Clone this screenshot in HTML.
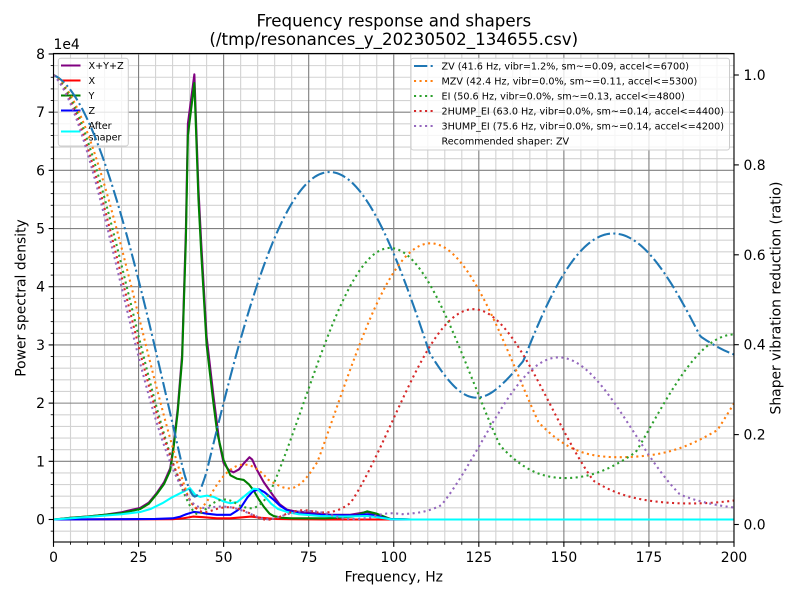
<!DOCTYPE html>
<html><head><meta charset="utf-8"><style>
html,body{margin:0;padding:0;background:#fff;}
svg{display:block;font-family:"DejaVu Sans","Liberation Sans",sans-serif;}
</style></head><body>
<svg id="s" width="800" height="600" viewBox="0 0 800 600" xmlns="http://www.w3.org/2000/svg">
<rect width="800" height="600" fill="#fff"/>
<defs><clipPath id="cp"><rect x="53.5" y="53.5" width="680.5" height="488.5"/></clipPath></defs>
<g id="grid" clip-path="url(#cp)"></g>
<g id="psd" clip-path="url(#cp)" fill="none" stroke-width="2.08" stroke-linejoin="round"></g>
<g id="leg1">
<rect x="58.3" y="58.3" width="70" height="87.7" rx="2.5" fill="#fff" fill-opacity="0.8" stroke="#cccccc" stroke-width="1"/>
<line x1="61" y1="65.5" x2="80.5" y2="65.5" stroke="purple" stroke-width="2.08"/>
<line x1="61" y1="80.5" x2="80.5" y2="80.5" stroke="red" stroke-width="2.08"/>
<line x1="61" y1="95.5" x2="80.5" y2="95.5" stroke="green" stroke-width="2.08"/>
<line x1="61" y1="110.5" x2="80.5" y2="110.5" stroke="blue" stroke-width="2.08"/>
<line x1="61" y1="131.5" x2="80.5" y2="131.5" stroke="cyan" stroke-width="2.08"/>
<g font-size="9.64" fill="#000">
<text x="88.5" y="69">X+Y+Z</text>
<text x="88.5" y="84">X</text>
<text x="88.5" y="99">Y</text>
<text x="88.5" y="114">Z</text>
<text x="88.5" y="129.2">After</text>
<text x="88.5" y="140.4">shaper</text>
</g>
</g>
<g id="shp" clip-path="url(#cp)" fill="none" stroke-width="2.08" stroke-linecap="butt"></g>
<g id="axes" stroke="#000" stroke-width="1.11" fill="none"></g>
<g id="leg2">
<rect x="411" y="58.3" width="318.5" height="91.7" rx="2.5" fill="#fff" fill-opacity="0.8" stroke="#cccccc" stroke-width="1"/>
<line x1="414" y1="66" x2="433.3" y2="66" stroke="#1f77b4" stroke-width="2.08" stroke-dasharray="13.3 3.33 2.08 3.33"/>
<line x1="414" y1="81" x2="433.3" y2="81" stroke="#ff7f0e" stroke-width="2.08" stroke-dasharray="2.08 3.44"/>
<line x1="414" y1="96" x2="433.3" y2="96" stroke="#2ca02c" stroke-width="2.08" stroke-dasharray="2.08 3.44"/>
<line x1="414" y1="111" x2="433.3" y2="111" stroke="#d62728" stroke-width="2.08" stroke-dasharray="2.08 3.44"/>
<line x1="414" y1="126" x2="433.3" y2="126" stroke="#9467bd" stroke-width="2.08" stroke-dasharray="2.08 3.44"/>
<g font-size="9.64" fill="#000">
<text x="441.5" y="69.5">ZV (41.6 Hz, vibr=1.2%, sm~=0.09, accel&lt;=6700)</text>
<text x="441.5" y="84.5">MZV (42.4 Hz, vibr=0.0%, sm~=0.11, accel&lt;=5300)</text>
<text x="441.5" y="99.5">EI (50.6 Hz, vibr=0.0%, sm~=0.13, accel&lt;=4800)</text>
<text x="441.5" y="114.5">2HUMP_EI (63.0 Hz, vibr=0.0%, sm~=0.14, accel&lt;=4400)</text>
<text x="441.5" y="129.5">3HUMP_EI (75.6 Hz, vibr=0.0%, sm~=0.14, accel&lt;=4200)</text>
<text x="441.5" y="144.5">Recommended shaper: ZV</text>
</g>
</g>
<g font-size="13.9" fill="#000">
<g text-anchor="middle">
<text x="53.5" y="562">0</text>
<text x="138.6" y="562">25</text>
<text x="223.6" y="562">50</text>
<text x="308.7" y="562">75</text>
<text x="393.8" y="562">100</text>
<text x="478.8" y="562">125</text>
<text x="563.9" y="562">150</text>
<text x="648.9" y="562">175</text>
<text x="734" y="562">200</text>
</g>
<g text-anchor="end">
<text x="45" y="524.5">0</text>
<text x="45" y="466.3">1</text>
<text x="45" y="408.1">2</text>
<text x="45" y="349.9">3</text>
<text x="45" y="291.7">4</text>
<text x="45" y="233.6">5</text>
<text x="45" y="175.4">6</text>
<text x="45" y="117.2">7</text>
<text x="45" y="59">8</text>
</g>
<g text-anchor="start">
<text x="743.5" y="529.5">0.0</text>
<text x="743.5" y="439.6">0.2</text>
<text x="743.5" y="349.7">0.4</text>
<text x="743.5" y="259.8">0.6</text>
<text x="743.5" y="169.9">0.8</text>
<text x="743.5" y="80">1.0</text>
</g>
<text x="53.5" y="49">1e4</text>
<text x="393.8" y="581.5" text-anchor="middle">Frequency, Hz</text>
<text transform="translate(25.3,298) rotate(-90)" text-anchor="middle">Power spectral density</text>
<text transform="translate(780.3,298) rotate(-90)" text-anchor="middle">Shaper vibration reduction (ratio)</text>
</g>
<g font-size="16.67" fill="#000" text-anchor="middle">
<text x="393.8" y="26.7">Frequency response and shapers</text>
<text x="393.8" y="45">(/tmp/resonances_y_20230502_134655.csv)</text>
</g>
</svg>
<script>
(function(){
var NS="http://www.w3.org/2000/svg";
var X0=53.5,XS=3.4025,Y0=519.5,YS=58.19,R0=524.5,RS=449.5;
function px(f){return X0+XS*f;}
function pyL(v){return Y0-YS*v;}
function pyR(r){return R0-RS*r;}
function el(parent,tag,attrs){var e=document.createElementNS(NS,tag);for(var k in attrs)e.setAttribute(k,attrs[k]);parent.appendChild(e);return e;}
var g=document.getElementById("grid");
var f,v,i;
for(f=0;f<=200;f+=5){if(f%25!==0){el(g,"line",{x1:px(f),y1:53.5,x2:px(f),y2:542,stroke:"#d3d3d3","stroke-width":1.11});}}
for(i=-2;i<=40;i++){if(i%5!==0){v=i*0.2;el(g,"line",{x1:53.5,y1:pyL(v),x2:734,y2:pyL(v),stroke:"#d3d3d3","stroke-width":1.11});}}
for(f=0;f<=200;f+=25){el(g,"line",{x1:px(f),y1:53.5,x2:px(f),y2:542,stroke:"#808080","stroke-width":1.11});}
for(i=0;i<=8;i++){el(g,"line",{x1:53.5,y1:pyL(i),x2:734,y2:pyL(i),stroke:"#808080","stroke-width":1.11});}
function pathL(pts){var d="";for(var j=0;j<pts.length;j++){d+=(j?"L":"M")+px(pts[j][0]).toFixed(2)+" "+pyL(pts[j][1]).toFixed(2);}return d;}
var purple=[[0,0],[5,0.03],[10,0.05],[15,0.08],[20,0.125],[25.5,0.2],[28,0.29],[30.4,0.46],[32.5,0.64],[34.3,0.88],[35.3,1.28],[36.5,1.9],[37.3,2.47],[37.8,2.83],[38.9,4.95],[39.5,6.8],[41.4,7.65],[42.6,5.68],[43.4,4.77],[45,3.14],[47,2.13],[48.8,1.3],[50,0.97],[51.5,0.85],[52.9,0.81],[54.5,0.86],[56,0.97],[57.6,1.07],[58.4,1.03],[59.8,0.85],[61.8,0.64],[64.7,0.40],[66.5,0.26],[68.6,0.17],[71,0.14],[74.5,0.12],[81.4,0.08],[87,0.08],[92.2,0.13],[95,0.08],[99,0.01],[105,0],[200,0]];
var red=[[0,0],[35,0.005],[38,0.02],[41,0.05],[44,0.04],[48,0.02],[52,0.02],[56,0.04],[58,0.05],[61,0.03],[65,0.01],[70,0.005],[80,0],[200,0]];
var green=[[0,0],[2,0.01],[5,0.03],[10,0.05],[15,0.08],[20,0.11],[25.5,0.18],[28,0.27],[30.4,0.44],[32.5,0.61],[34.3,0.84],[35.3,1.24],[36.5,1.84],[37.3,2.4],[37.8,2.75],[38.9,4.8],[39.5,6.6],[41.4,7.5],[42.6,5.5],[43.4,4.6],[45,3.0],[47,2.0],[48.1,1.5],[50,1.02],[52,0.76],[54,0.70],[55.9,0.68],[57.5,0.6],[58.8,0.5],[60.3,0.35],[61.8,0.22],[63.5,0.1],[64.7,0.06],[67,0.03],[70,0.02],[80,0.02],[88,0.05],[92.2,0.14],[95,0.1],[99,0.01],[105,0],[200,0]];
var blue=[[0,0],[20,0.005],[30,0.01],[35,0.02],[37.3,0.05],[39,0.09],[41.2,0.13],[43,0.12],[45.1,0.1],[48,0.08],[52,0.08],[53.9,0.15],[55,0.2],[57,0.38],[58.5,0.48],[60.3,0.52],[62,0.47],[64.7,0.34],[66.5,0.24],[68.6,0.16],[71,0.12],[73.5,0.095],[80,0.075],[89,0.07],[92.2,0.09],[95,0.06],[99,0.005],[105,0],[200,0]];
var cyan=[[0,0],[5,0.02],[13.7,0.06],[20,0.09],[25.5,0.13],[28.5,0.18],[32,0.28],[34.8,0.38],[38.2,0.48],[40.1,0.54],[41.7,0.42],[43.1,0.39],[45.1,0.41],[47,0.39],[50,0.31],[52,0.28],[54,0.30],[56.5,0.42],[58.8,0.53],[60,0.52],[62,0.4],[64,0.27],[66,0.18],[68.6,0.13],[72,0.09],[78.4,0.06],[85,0.05],[92.2,0.06],[95,0.04],[99,0.005],[105,0],[200,0]];
var pg=document.getElementById("psd");
el(pg,"path",{d:pathL(purple),stroke:"purple"});
el(pg,"path",{d:pathL(red),stroke:"red"});
el(pg,"path",{d:pathL(green),stroke:"green"});
el(pg,"path",{d:pathL(blue),stroke:"blue"});
el(pg,"path",{d:pathL(cyan),stroke:"cyan"});
function zvS(f,dr){var df=Math.sqrt(1-dr*dr),K=Math.exp(-dr*Math.PI/df),td=1/(f*df);return [[1,K],[0,0.5*td]];}
function mzvS(f,dr){var df=Math.sqrt(1-dr*dr),K=Math.exp(-0.75*dr*Math.PI/df),td=1/(f*df);var a1=1-1/Math.SQRT2,a2=(Math.SQRT2-1)*K,a3=a1*K*K;return [[a1,a2,a3],[0,0.375*td,0.75*td]];}
function eiS(f,dr){var vt=1/20,df=Math.sqrt(1-dr*dr),td=1/(f*df);
var a1=0.24968+0.24961*vt+0.80008*dr+1.23328*vt*dr+0.495*dr*dr+3.00005*vt*dr*dr;
var a3=0.25149+0.21474*vt-0.83249*dr+1.41498*vt*dr+0.85181*dr*dr-4.90094*vt*dr*dr;
var a2=1-a1-a3;var t2=0.5;
return [[a1,a2,a3],[0,t2*td,td]];}
function h2S(f,dr){var vt=1/20,df=Math.sqrt(1-dr*dr),K=Math.exp(-dr*Math.PI/df),td=1/(f*df);var V2=vt*vt;var X=Math.pow(V2*(Math.sqrt(1-V2)+1),1/3);var a1=(3*X*X+2*X+3*V2)/(16*X);var a2=(0.5-a1)*K;var a3=a2*K;var a4=a1*K*K*K;return [[a1,a2,a3,a4],[0,0.5*td,td,1.5*td]];}
function h3S(f,dr){var vt=1/20,df=Math.sqrt(1-dr*dr),K=Math.exp(-dr*Math.PI/df),td=1/(f*df);var K2=K*K;var a1=0.0625*(1+3*vt+2*Math.sqrt(2*(vt+1)*vt));var a2=0.25*(1-vt)*K;var a3=(0.5*(1+vt)-2*a1)*K2;var a4=a2*K2;var a5=a1*K2*K2;return [[a1,a2,a3,a4,a5],[0,0.5*td,td,1.5*td,2*td]];}
function est(sh,dr,f){var A=sh[0],T=sh[1],sum=0,k;for(k=0;k<A.length;k++)sum+=A[k];var om=2*Math.PI*f,damp=dr*om,omd=om*Math.sqrt(1-dr*dr),Tl=T[T.length-1],S=0,C=0;for(k=0;k<A.length;k++){var W=A[k]*Math.exp(-damp*(Tl-T[k]));S+=W*Math.sin(omd*T[k]);C+=W*Math.cos(omd*T[k]);}return Math.sqrt(S*S+C*C)/sum;}
var defs=[[zvS,41.6,"#1f77b4","13.3 3.33 2.08 3.33"],[mzvS,42.4,"#ff7f0e","2.08 3.44"],[eiS,50.6,"#2ca02c","2.08 3.44"],[h2S,63.0,"#d62728","2.08 3.44"],[h3S,75.6,"#9467bd","2.08 3.44"]];
var tdr=[0.075,0.1,0.15];
var sg=document.getElementById("shp");
for(var s=0;s<defs.length;s++){
 var sh=defs[s][0](defs[s][1],0.1);var d="";
 for(var q=0;q<=400;q++){var ff=q*0.5;var mv=0;for(var t=0;t<tdr.length;t++){var vv=est(sh,tdr[t],ff);if(vv>mv)mv=vv;}
  d+=(q?"L":"M")+px(ff).toFixed(2)+" "+pyR(mv).toFixed(2);}
 el(sg,"path",{d:d,stroke:defs[s][2],"stroke-dasharray":defs[s][3]});
}
var ag=document.getElementById("axes");
el(ag,"rect",{x:53.5,y:53.5,width:680.5,height:488.5});
for(f=0;f<=200;f+=5){var maj=(f%25===0);el(ag,"line",{x1:px(f),y1:542,x2:px(f),y2:542+(maj?4.86:2.78),"stroke-width":maj?1.11:0.83});}
for(i=-1;i<=40;i++){v=i*0.2;var mj=(i%5===0);el(ag,"line",{x1:53.5,y1:pyL(v),x2:53.5-(mj?4.86:2.78),y2:pyL(v),"stroke-width":mj?1.11:0.83});}
for(i=0;i<=5;i++){el(ag,"line",{x1:734,y1:pyR(i*0.2),x2:738.86,y2:pyR(i*0.2)});}
})();
</script>
</body></html>
